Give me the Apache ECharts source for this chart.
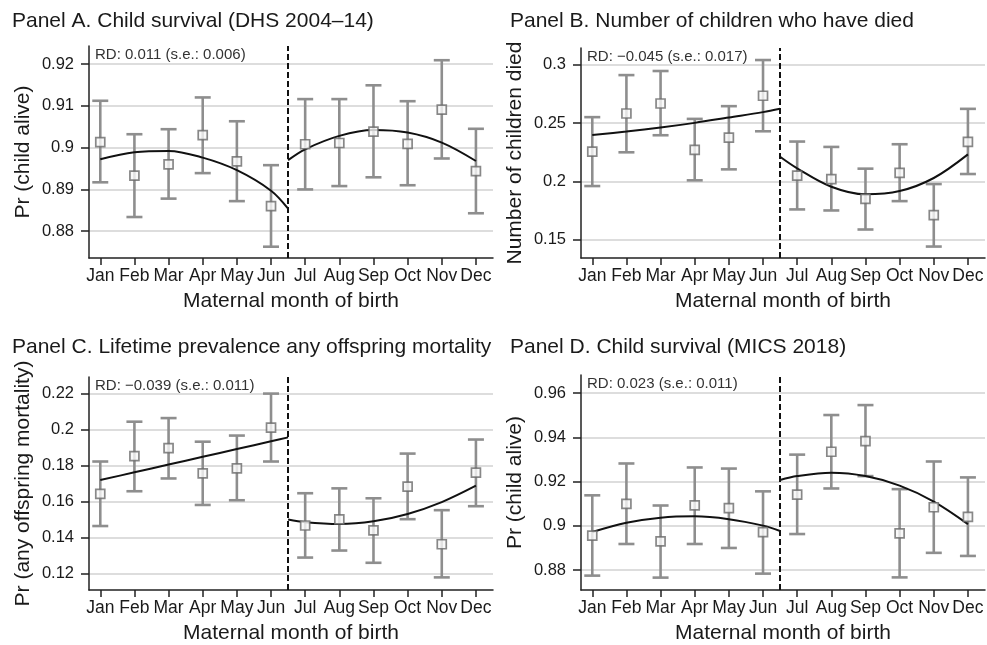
<!DOCTYPE html>
<html>
<head>
<meta charset="utf-8">
<script src="https://cdn.jsdelivr.net/npm/echarts@6/dist/echarts.min.js"></script>
<style>
  html, body { margin: 0; padding: 0; background: #ffffff; }
  #chart { width: 987px; height: 645px; }
</style>
</head>
<body>
<div id="chart"></div>
<script>
// Month axis
const monthNames = ['Jan', 'Feb', 'Mar', 'Apr', 'May', 'Jun', 'Jul', 'Aug', 'Sep', 'Oct', 'Nov', 'Dec'];
const months = [1, 2, 3, 4, 5, 6, 7, 8, 9, 10, 11, 12];
const cutoff = 6.5;
const fitLeftX = [1, 2, 3, 4, 5, 6, 6.5];
const fitRightX = [6.5, 7, 8, 9, 10, 11, 12];

// Panel A: child survival, DHS 2004-14
const aEst  = [0.9013, 0.8933, 0.8960, 0.9030, 0.8967, 0.8860, 0.9008, 0.9011, 0.9038, 0.9009, 0.9091, 0.8944];
const aLow  = [0.8917, 0.8834, 0.8878, 0.8939, 0.8872, 0.8763, 0.8900, 0.8908, 0.8929, 0.8910, 0.8974, 0.8843];
const aHigh = [0.9112, 0.9032, 0.9044, 0.9120, 0.9063, 0.8958, 0.9116, 0.9116, 0.9149, 0.9111, 0.9209, 0.9045];
const aFitLeft  = [0.8972, 0.8989, 0.8992, 0.8976, 0.8946, 0.8897, 0.8854];
const aFitRight = [0.8970, 0.8996, 0.9028, 0.9042, 0.9036, 0.9012, 0.8968];
const aTicks = [0.88, 0.89, 0.90, 0.91, 0.92];

// Panel B: number of children who have died
const bEst  = [0.2256, 0.2582, 0.2668, 0.2270, 0.2376, 0.2734, 0.2050, 0.2021, 0.1852, 0.2073, 0.1712, 0.2339];
const bLow  = [0.1961, 0.2250, 0.2396, 0.2010, 0.2104, 0.2430, 0.1761, 0.1752, 0.1589, 0.1832, 0.1443, 0.2064];
const bHigh = [0.2551, 0.2911, 0.2946, 0.2536, 0.2645, 0.3040, 0.2342, 0.2296, 0.2110, 0.2319, 0.1978, 0.2622];
const bFitLeft  = [0.2399, 0.2428, 0.2462, 0.2502, 0.2548, 0.2594, 0.2622];
const bFitRight = [0.2212, 0.2113, 0.1955, 0.1890, 0.1918, 0.2030, 0.2232];
const bTicks = [0.15, 0.20, 0.25, 0.30];

// Panel C: lifetime prevalence of any offspring mortality
const cEst  = [0.1643, 0.1853, 0.1897, 0.1757, 0.1785, 0.2011, 0.1468, 0.1502, 0.1441, 0.1684, 0.1364, 0.1761];
const cLow  = [0.1465, 0.1658, 0.1729, 0.1582, 0.1608, 0.1823, 0.1290, 0.1329, 0.1261, 0.1503, 0.1180, 0.1575];
const cHigh = [0.1823, 0.2044, 0.2064, 0.1933, 0.1967, 0.2200, 0.1647, 0.1674, 0.1619, 0.1867, 0.1553, 0.1945];
const cFitLeft  = [0.1720, 0.1763, 0.1806, 0.1849, 0.1892, 0.1935, 0.1957];
const cFitRight = [0.1501, 0.1486, 0.1476, 0.1491, 0.1532, 0.1598, 0.1689];
const cTicks = [0.12, 0.14, 0.16, 0.18, 0.20, 0.22];

// Panel D: child survival, MICS 2018
const dEst  = [0.8956, 0.9099, 0.8930, 0.9093, 0.9080, 0.8972, 0.9141, 0.9335, 0.9383, 0.8966, 0.9084, 0.9041];
const dLow  = [0.8775, 0.8918, 0.8766, 0.8918, 0.8900, 0.8784, 0.8963, 0.9169, 0.9225, 0.8767, 0.8878, 0.8864];
const dHigh = [0.9138, 0.9282, 0.9092, 0.9264, 0.9259, 0.9156, 0.9322, 0.9501, 0.9546, 0.9166, 0.9291, 0.9219];
const dFitLeft  = [0.8972, 0.9014, 0.9037, 0.9043, 0.9030, 0.9001, 0.8977];
const dFitRight = [0.9207, 0.9225, 0.9240, 0.9225, 0.9182, 0.9110, 0.9008];
const dTicks = [0.88, 0.90, 0.92, 0.94, 0.96];

// Panel texts
const panelTitles = [
  'Panel A. Child survival (DHS 2004\u201314)',
  'Panel B. Number of children who have died',
  'Panel C. Lifetime prevalence any offspring mortality',
  'Panel D. Child survival (MICS 2018)'
];
const yTitles = ['Pr (child alive)', 'Number of children died', 'Pr (any offspring mortality)', 'Pr (child alive)'];
const rdLabels = [
  'RD: 0.011 (s.e.: 0.006)',
  'RD: \u22120.045 (s.e.: 0.017)',
  'RD: \u22120.039 (s.e.: 0.011)',
  'RD: 0.023 (s.e.: 0.011)'
];
const xTitle = 'Maternal month of birth';

const FONT = '"Liberation Sans", Arial, Helvetica, sans-serif';
const TEXT = '#1a1a1a';

const panels = [
  { est: aEst, low: aLow, high: aHigh, fl: aFitLeft, fr: aFitRight, ticks: aTicks, min: 0.8736, max: 0.9243,
    grid: { left: 89, top: 46, width: 404, height: 212 }, title: [12, 11] },
  { est: bEst, low: bLow, high: bHigh, fl: bFitLeft, fr: bFitRight, ticks: bTicks, min: 0.1345, max: 0.3143,
    grid: { left: 581, top: 48, width: 404, height: 210 }, title: [510, 11] },
  { est: cEst, low: cLow, high: cHigh, fl: cFitLeft, fr: cFitRight, ticks: cTicks, min: 0.1110, max: 0.2292,
    grid: { left: 89, top: 377, width: 404, height: 215 }, title: [12, 337] },
  { est: dEst, low: dLow, high: dHigh, fl: dFitLeft, fr: dFitRight, ticks: dTicks, min: 0.8710, max: 0.9682,
    grid: { left: 581, top: 375, width: 404, height: 217 }, title: [510, 337] }
];

function tickText(v) {
  return String(parseFloat(Number(v).toFixed(3)));
}

const grids = [], xAxes = [], yAxes = [], series = [], titles = [], graphics = [];

panels.forEach((p, i) => {
  grids.push(Object.assign({ containLabel: false }, p.grid));

  titles.push({
    text: panelTitles[i], left: p.title[0], top: p.title[1], padding: 0,
    textStyle: { fontFamily: FONT, fontSize: 21, fontWeight: 'normal', color: TEXT }
  });

  xAxes.push({
    type: 'value', gridIndex: i, min: 0.67, max: 12.5,
    name: xTitle, nameLocation: 'middle', nameGap: 33,
    nameTextStyle: { fontFamily: FONT, fontSize: 21, color: TEXT },
    axisLine: { show: true, lineStyle: { color: '#222', width: 1.5 } },
    axisTick: { show: true, length: 7, lineStyle: { color: '#222', width: 1.5 }, customValues: months },
    axisLabel: {
      show: true, margin: 9, customValues: months,
      fontFamily: FONT, fontSize: 17.5, color: TEXT,
      formatter: v => monthNames[Math.round(v) - 1] || ''
    },
    splitLine: { show: false }
  });

  yAxes.push({
    type: 'value', gridIndex: i, min: p.min, max: p.max,
    name: yTitles[i], nameLocation: 'middle', nameGap: 55,
    nameTextStyle: { fontFamily: FONT, fontSize: 21, color: TEXT },
    axisLine: { show: true, lineStyle: { color: '#222', width: 1.5 } },
    axisTick: { show: true, length: 8, lineStyle: { color: '#222', width: 1.5 }, customValues: p.ticks },
    axisLabel: {
      show: true, margin: 15, customValues: p.ticks,
      fontFamily: FONT, fontSize: 16.5, color: TEXT,
      formatter: v => tickText(v)
    },
    splitLine: { show: true, lineStyle: { color: '#d2d2d2', width: 1.5 } }
  });

  // confidence intervals with caps
  series.push({
    type: 'custom', xAxisIndex: i, yAxisIndex: i, z: 2, silent: true,
    data: months.map((m, k) => [m, p.low[k], p.high[k]]),
    encode: { x: 0, y: [1, 2] },
    renderItem: (params, api) => {
      const x = api.value(0);
      const lo = api.coord([x, api.value(1)]);
      const hi = api.coord([x, api.value(2)]);
      const half = 8;
      const st = { stroke: '#8e8e8e', lineWidth: 2.6 };
      return {
        type: 'group',
        children: [
          { type: 'line', shape: { x1: lo[0], y1: lo[1], x2: hi[0], y2: hi[1] }, style: st },
          { type: 'line', shape: { x1: lo[0] - half, y1: lo[1], x2: lo[0] + half, y2: lo[1] }, style: st },
          { type: 'line', shape: { x1: hi[0] - half, y1: hi[1], x2: hi[0] + half, y2: hi[1] }, style: st }
        ]
      };
    }
  });

  // fitted curve before the cutoff, carrying the cutoff marker
  series.push({
    type: 'line', xAxisIndex: i, yAxisIndex: i, z: 3, silent: true,
    data: fitLeftX.map((x, k) => [x, p.fl[k]]),
    smooth: 0.35, showSymbol: false, symbol: 'none',
    lineStyle: { color: '#111', width: 2 },
    markLine: {
      silent: true, symbol: 'none', label: { show: false },
      lineStyle: { color: '#111', width: 2, type: [6, 3] },
      data: [{ xAxis: cutoff }]
    }
  });

  // fitted curve after the cutoff
  series.push({
    type: 'line', xAxisIndex: i, yAxisIndex: i, z: 3, silent: true,
    data: fitRightX.map((x, k) => [x, p.fr[k]]),
    smooth: 0.35, showSymbol: false, symbol: 'none',
    lineStyle: { color: '#111', width: 2 }
  });

  // monthly estimates
  series.push({
    type: 'scatter', xAxisIndex: i, yAxisIndex: i, z: 4, silent: true,
    data: months.map((m, k) => [m, p.est[k]]),
    symbol: 'rect', symbolSize: 9,
    itemStyle: { color: '#f7f7f7', borderColor: '#6a6a6a', borderWidth: 1.7 }
  });

  graphics.push({
    type: 'text', left: p.grid.left + 6, top: p.grid.top + 1, z: 10,
    style: { text: rdLabels[i], font: '15px ' + FONT, fill: '#333' }
  });
});

const chart = echarts.init(document.getElementById('chart'), null, { renderer: 'canvas' });
chart.setOption({
  animation: false,
  backgroundColor: '#ffffff',
  title: titles,
  grid: grids,
  xAxis: xAxes,
  yAxis: yAxes,
  series: series,
  graphic: graphics
});
</script>
</body>
</html>
